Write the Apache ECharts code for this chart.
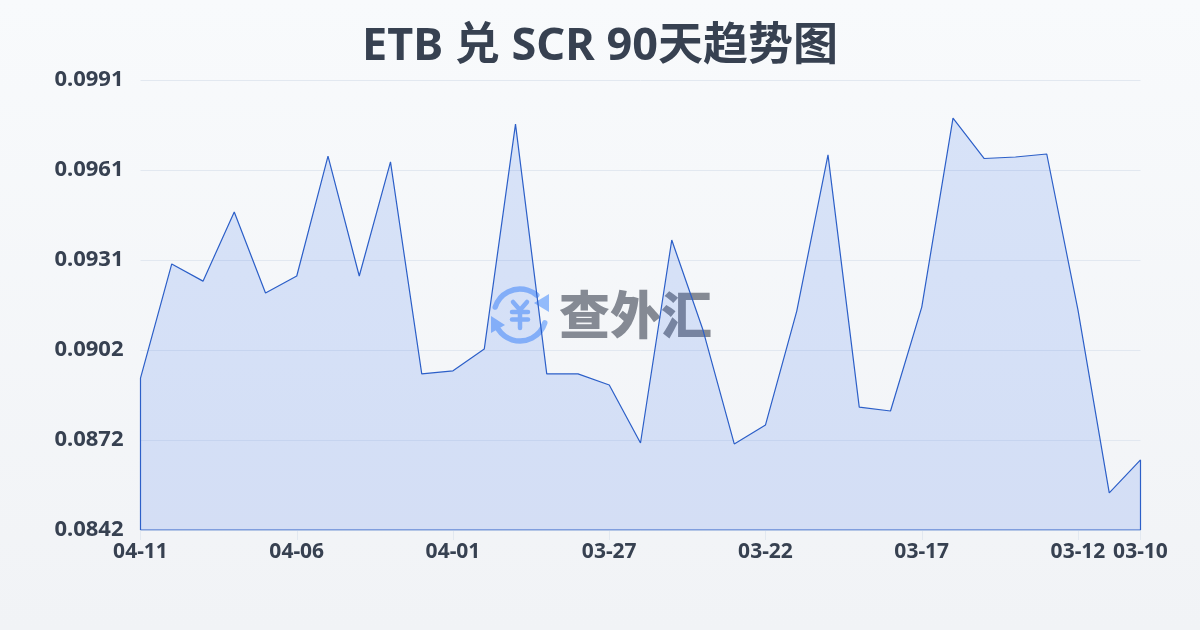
<!DOCTYPE html>
<html><head><meta charset="utf-8">
<style>html,body{margin:0;padding:0;background:#f8fafc}#c{width:1200px;height:630px}</style>
<script src="https://cdn.jsdelivr.net/npm/echarts@6/dist/echarts.min.js"></script>
</head><body><div id="c"></div>
<script>
const titleText = 'ETB 兑 SCR 90天趋势图';
const watermarkText = '查外汇';
const dates = {0:'04-11',5:'04-06',10:'04-01',15:'03-27',20:'03-22',25:'03-17',30:'03-12',32:'03-10'};
const rates = [0.08923,0.09301,0.09244,0.09473,0.09205,0.09261,0.09658,0.09261,0.09639,0.08937,0.08947,0.09019,0.09764,0.08937,0.08937,0.08900,0.08708,0.09380,0.09082,0.08705,0.08768,0.09145,0.09662,0.08827,0.08814,0.09158,0.09784,0.09650,0.09655,0.09665,0.09148,0.08543,0.08652];
const yMin = 0.0842, yStep = 0.00298, yMax = 0.0991;
const sans = '"Noto Sans","Noto Sans CJK SC",sans-serif';
const last = rates.length - 1;
const outline = [[0,yMin]].concat(rates.map((v,i)=>[i,v]),[[last,yMin],[0,yMin]]);
const chart = echarts.init(document.getElementById('c'),null,{renderer:'canvas'});
const logoBlue = '#93bbfb';
const stroke = {fill:null,stroke:logoBlue,lineWidth:5.5,lineCap:'round',lineJoin:'round'};
const yenStroke = {fill:null,stroke:logoBlue,lineWidth:4.5,lineCap:'round',lineJoin:'round'};
chart.setOption({
  animation:false,
  backgroundColor:{type:'linear',x:0,y:0,x2:0,y2:1,colorStops:[{offset:0,color:'#f8fafc'},{offset:1,color:'#f1f3f6'}]},
  title:{text:titleText,left:'center',top:20,textStyle:{fontFamily:sans,fontSize:45,fontWeight:700,color:'#374151'}},
  grid:{left:140.5,right:59.5,top:80,bottom:100},
  xAxis:{type:'value',min:0,max:last,interval:5,splitLine:{show:false},
    axisLine:{show:false},axisTick:{show:true,length:10,lineStyle:{color:'#e2e8f0',width:1}},
    axisLabel:{fontFamily:sans,fontSize:21,fontWeight:700,color:'#374151',margin:12,hideOverlap:false,formatter:v=>dates[v]||''}},
  yAxis:{type:'value',min:yMin,max:yMax,interval:yStep,
    axisLine:{show:false},axisTick:{show:false},
    splitLine:{lineStyle:{color:'#e2e8f0',width:1}},
    axisLabel:{fontFamily:sans,fontSize:22,fontWeight:700,color:'#374151',margin:17,padding:[0,0,4,0],formatter:v=>v.toFixed(4)}},
  graphic:[{type:'group',z:0,silent:true,children:[
    {type:'arc',shape:{cx:520,cy:315,r:26,startAngle:-2.83,endAngle:-0.87},style:stroke},
    {type:'arc',shape:{cx:520,cy:315,r:26,startAngle:0.31,endAngle:2.56},style:stroke},
    {type:'polygon',shape:{points:[[549,294],[549,312],[534,303]]},style:{fill:logoBlue}},
    {type:'polygon',shape:{points:[[491,316],[491,333],[505,325]]},style:{fill:logoBlue}},
    {type:'polyline',shape:{points:[[513,302],[520,310],[527,302]]},style:yenStroke},
    {type:'line',shape:{x1:512,y1:312,x2:528,y2:312},style:yenStroke},
    {type:'line',shape:{x1:512,y1:319.5,x2:528,y2:319.5},style:yenStroke},
    {type:'line',shape:{x1:520,y1:310,x2:520,y2:328},style:yenStroke},
    {type:'text',style:{x:559,y:315,text:watermarkText,align:'left',verticalAlign:'middle',font:'900 51px "Noto Sans CJK SC",sans-serif',fill:'#858a94'}}
  ]}],
  series:[{type:'line',data:outline,symbol:'none',smooth:false,z:3,
    lineStyle:{color:'#2c5fc8',width:1.2},
    areaStyle:{color:'#2563eb',opacity:0.15,origin:'start'}}]
});
</script></body></html>
